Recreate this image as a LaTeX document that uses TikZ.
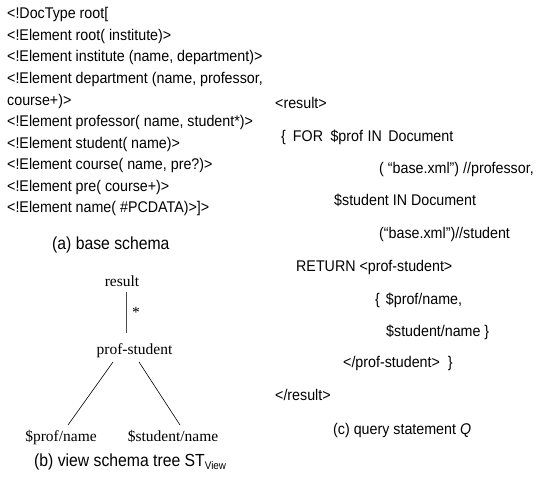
\documentclass[tikz,border=0pt]{standalone}
\usepackage{fontspec}
\setmainfont[FakeStretch=0.92]{Liberation Sans}
\newfontfamily\capfont[FakeStretch=0.9]{Liberation Sans}
\newfontfamily\tmsfont{Liberation Serif}
\usetikzlibrary{calc}
\tikzset{
  txt/.style={anchor=base west, inner sep=0pt, font=\fontsize{15.5}{18}\selectfont},
  captxt/.style={anchor=base west, inner sep=0pt, font=\capfont\fontsize{17.5}{20}\selectfont},
  tnode/.style={anchor=base, inner sep=0pt, font=\tmsfont\fontsize{15.5}{18}\selectfont},
  edge/.style={draw=black, line width=0.6pt},
}
\begin{document}
\begin{tikzpicture}[x=1pt,y=-1pt]
\useasboundingbox (0,0) rectangle (544,486);
% (a) base schema
\node[txt] (a1) at (7,19) {<!DocType root[};
\node[txt] (a2) at (7,40.5) {<!Element root( institute)>};
\node[txt] (a3) at (7,62) {<!Element institute (name, department)>};
\node[txt] (a4) at (7,84) {<!Element department (name, professor,};
\node[txt] (a5) at (7,105.5) {course+)>};
\node[txt] (a6) at (7,127) {<!Element professor( name, student*)>};
\node[txt] (a7) at (7,148.5) {<!Element student( name)>};
\node[txt] (a8) at (7,170) {<!Element course( name, pre?)>};
\node[txt] (a9) at (7,191.5) {<!Element pre( course+)>};
\node[txt] (a10) at (7,213) {<!Element name( \#PCDATA)>]>};
\node[captxt] (capa) at (52,250) {(a) base schema};
% (b) view schema tree
\node[tnode] (res) at (122,287) {result};
\node[tnode] (ps) at (134.5,355) {prof-student};
\node[tnode] (pn) at (61,442) {\$prof/name};
\node[tnode] (sn) at (173,442) {\$student/name};
\node[tnode, anchor=base] (star) at (136,318) {*};
\draw[edge, draw=black!70] ($(res.base)+(4,5)$) -- ($(ps.base)+(-8.5,-22)$);
\draw[edge] ($(ps.base)+(-21.5,7)$) -- ($(pn.base)+(7,-17)$);
\draw[edge] ($(ps.base)+(4.5,7)$) -- ($(sn.base)+(7,-17)$);
\node[captxt] (capb) at (34,467) {(b) view schema tree ST\textsubscript{\fontsize{11}{12}\selectfont View}};
% (c) query statement
\node[txt] (c1) at (275,109) {<result>};
\node[txt] (c2) at (281,142) {\{\hspace{7pt}FOR\hspace{7.5pt}\$prof\hspace{4.5pt}IN\hspace{6.5pt}Document};
\node[txt] (c3) at (379,174) {( “base.xml”) //professor,};
\node[txt] (c4) at (334,206) {\$student IN Document};
\node[txt] (c5) at (379,239) {(“base.xml”)//student};
\node[txt] (c6) at (296,272) {RETURN <prof-student>};
\node[txt] (c7) at (375,305) {\{\hspace{6pt}\$prof/name,};
\node[txt] (c8) at (386,337) {\$student/name \}};
\node[txt] (c9) at (343,368) {</prof-student>\hspace{8pt}\}};
\node[txt] (c10) at (275,401) {</result>};
\node[txt] (capc) at (333,435) {(c) query statement \textit{Q}};
\end{tikzpicture}
\end{document}
